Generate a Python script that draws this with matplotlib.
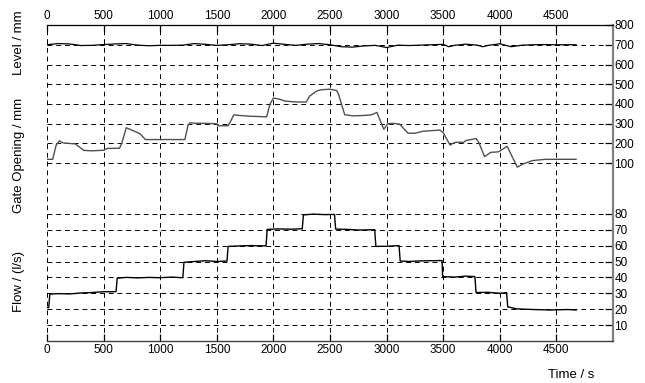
import matplotlib
matplotlib.use("Agg")
import matplotlib.pyplot as plt
import numpy as np

plt.rcParams["font.family"] = ["Liberation Sans", "DejaVu Sans"]

# level (mm)
level_t = [0, 100, 200, 300, 400, 500, 600, 700, 800, 900, 1000, 1100, 1200, 1300,
           1400, 1500, 1600, 1700, 1800, 1900, 2000, 2100, 2200, 2300, 2400, 2500,
           2600, 2700, 2800, 2900, 3000, 3100, 3200, 3300, 3400, 3500, 3550, 3600,
           3700, 3800, 3850, 3900, 4000, 4100, 4200, 4300, 4400, 4500, 4600, 4674]
level_mm = [700, 706, 704, 696, 697, 701, 704, 706, 698, 695, 697, 697, 698, 706,
            702, 697, 700, 705, 703, 696, 708, 702, 697, 703, 706, 700,
            690, 688, 694, 697, 686, 698, 696, 698, 700, 702, 690, 697,
            703, 698, 690, 697, 705, 690, 698, 700, 701, 700, 700, 700]

# gate opening (mm)
gate_t = [0, 50, 80, 110, 130, 160, 250, 325, 400, 505, 530, 640, 660, 700, 760, 820,
          870, 1000, 1218, 1245, 1263, 1300, 1400, 1500, 1510, 1600, 1620, 1650, 1700,
          1800, 1940, 1970, 2000, 2050, 2100, 2200, 2290, 2320, 2380, 2420, 2500, 2560,
          2575, 2630, 2700, 2800, 2865, 2915, 2955, 2975, 3010, 3060, 3115, 3190, 3250,
          3320, 3470, 3500, 3560, 3600, 3640, 3680, 3700, 3790, 3815, 3865, 3920, 3990,
          4065, 4095, 4155, 4200, 4285, 4400, 4674]
gate_mm = [120, 120, 190, 214, 205, 202, 198, 165, 163, 166, 175, 176, 200, 280, 265, 250,
           220, 220, 220, 290, 305, 303, 302, 300, 290, 290, 310, 345, 342,
           338, 335, 400, 430, 425, 415, 410, 410, 440, 465, 472, 475, 468,
           450, 346, 340, 342, 345, 357, 300, 272, 300, 302, 298, 252, 252,
           262, 268, 255, 192, 205, 207, 205, 215, 225, 205, 134, 155, 158,
           186, 150, 80, 95, 113, 120, 120]

# flow (l/s), stepped
flow_t = [0, 15, 25, 100, 200, 300, 400, 500, 610, 620, 700, 800, 900, 1000, 1100, 1200,
          1210, 1300, 1400, 1500, 1590, 1600, 1700, 1800, 1935, 1945, 2050, 2150, 2255,
          2265, 2350, 2450, 2540, 2550, 2650, 2750, 2895, 2905, 3000, 3110, 3120, 3200,
          3300, 3490, 3495, 3600, 3700, 3780, 3790, 3900, 4000, 4060, 4070, 4150, 4300,
          4450, 4600, 4674]
flow_ls = [21, 21, 29.5, 29.8, 29.6, 30.2, 30.5, 31, 31, 39.5, 40, 39.7, 40, 39.8, 40.2, 39.8,
           49.5, 50, 50.5, 50, 50.3, 59.5, 59.8, 60, 59.8, 70.2, 70.5, 70.3, 70.6,
           79.3, 79.8, 79.5, 79.6, 70.4, 70.2, 69.8, 70, 59.5, 59.6, 60, 50.3, 50,
           50.4, 50.6, 40.5, 40.2, 40.8, 40.5, 30.5, 30.6, 30, 30.4, 21.5, 20.2, 19.8,
           19.5, 19.8, 19.5]

x_ticks = [0, 500, 1000, 1500, 2000, 2500, 3000, 3500, 4000, 4500]
mm_ticks = [100, 200, 300, 400, 500, 600, 700, 800]
flow_ticks = [10, 20, 30, 40, 50, 60, 70, 80]


def mm2y(v):
    # upper block (mm) stacked above the flow block in flow units
    return (np.asarray(v, dtype=float) + 800) / 8.05


fig = plt.figure(figsize=(6.45, 3.83), dpi=100)
ax = fig.add_axes([47 / 645, 1 - 341 / 383, 566 / 645, 316 / 383])
ax.set_xlim(0, 5000)
ax.set_ylim(0, float(mm2y(800)))

dash = (0, (5, 4))
for xv in x_ticks:
    ax.axvline(xv, color="black", lw=0.7, ls=dash, zorder=1)
for yv in list(mm2y(mm_ticks[:-1])) + flow_ticks:
    ax.axhline(yv, color="black", lw=0.7, ls=dash, zorder=1)

ax.plot(level_t, mm2y(level_mm), color="black", lw=0.9, zorder=3)
ax.plot(gate_t, mm2y(gate_mm), color="#505050", lw=1.0, zorder=3)
ax.plot(flow_t, flow_ls, color="black", lw=1.0, zorder=3)

# spines
ax.spines["left"].set_visible(False)
ax.spines["top"].set_color("black")
ax.spines["top"].set_linewidth(0.9)
ax.spines["bottom"].set_color("#404040")
ax.spines["bottom"].set_linewidth(1.0)
ax.spines["right"].set_color("#808080")
ax.spines["right"].set_linewidth(1.6)

ax.set_xticks(x_ticks)
ax.set_xticklabels([str(v) for v in x_ticks])
ax.tick_params(axis="x", direction="in", length=5, width=0.9, top=True,
               labeltop=True, labelsize=8.5, pad=2)
ax.set_yticks(list(mm2y(mm_ticks)) + flow_ticks)
ax.set_yticklabels([str(v) for v in mm_ticks] + [str(v) for v in flow_ticks])
ax.tick_params(axis="y", direction="in", length=6, width=0.9, left=False,
               right=True, labelleft=False, labelright=True, labelsize=8.5, pad=1)

# side labels
fig.text(19 / 645, 1 - 43 / 383, "Level / mm", rotation=90, ha="center", va="center",
         fontsize=9.5)
fig.text(19 / 645, 1 - 155 / 383, "Gate Opening / mm", rotation=90, ha="center",
         va="center", fontsize=9.5)
fig.text(19 / 645, 1 - 282 / 383, "Flow / (l/s)", rotation=90, ha="center", va="center",
         fontsize=9.5)
fig.text(571 / 645, 1 - 375 / 383, "Time / s", ha="center", va="center", fontsize=9.5)

fig.savefig("out.png", dpi=100)
